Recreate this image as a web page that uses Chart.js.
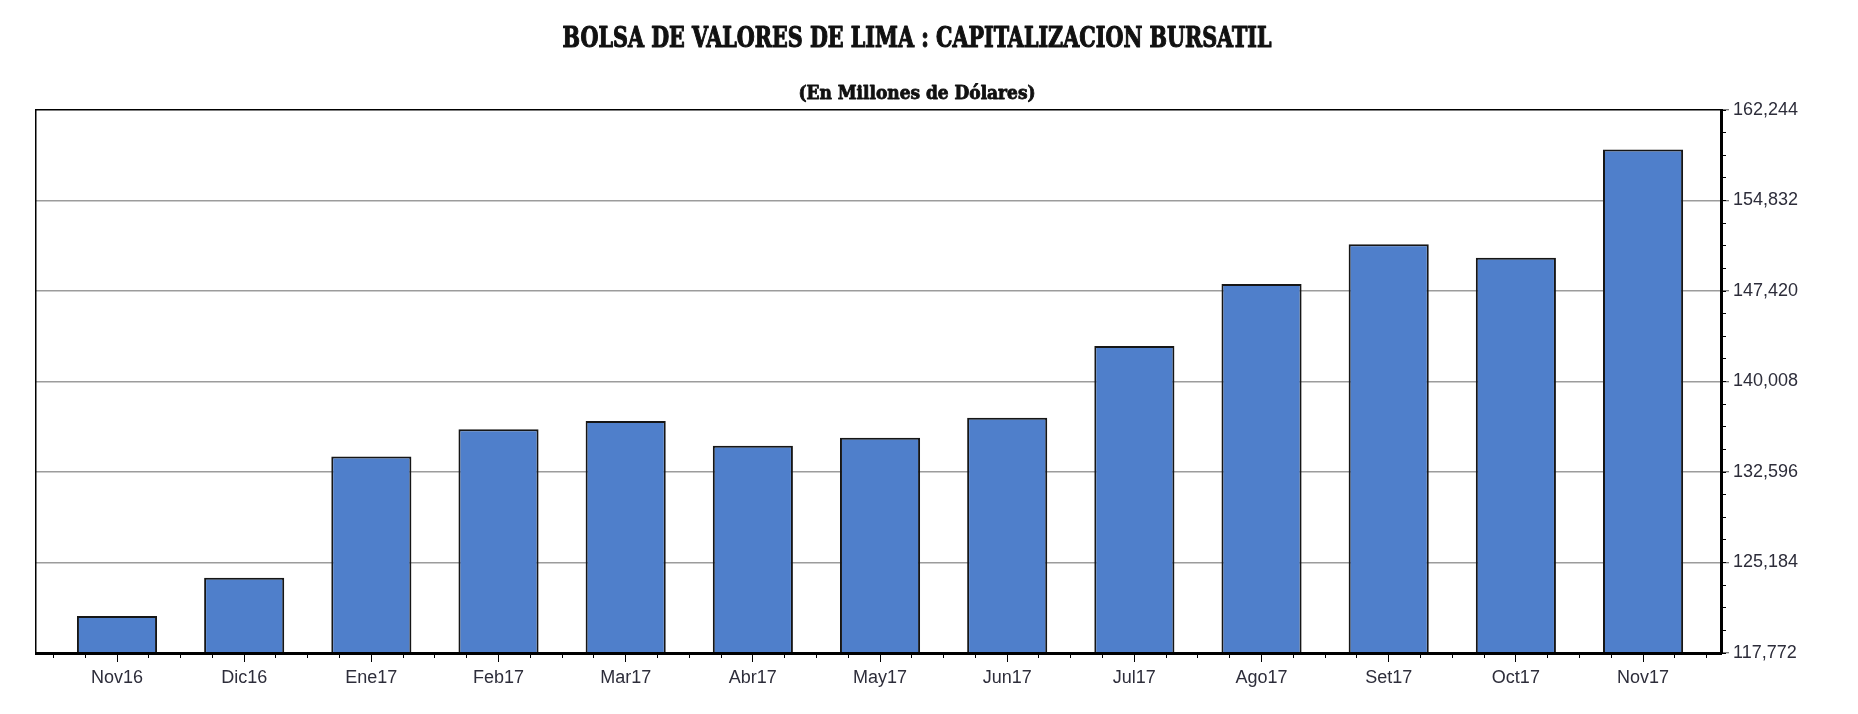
<!DOCTYPE html>
<html>
<head>
<meta charset="utf-8">
<title>Bolsa de Valores de Lima</title>
<script src="https://cdn.jsdelivr.net/npm/chart.js@4.4.1/dist/chart.umd.min.js"></script>
<style>
  body { margin: 0; background: #fff; }
  #chart { display: block; }
</style>
</head>
<body>
<canvas id="chart" width="1858" height="714"></canvas>
<script>
var chartTitle = 'BOLSA DE VALORES DE LIMA : CAPITALIZACION BURSATIL'
var chartSubtitle = '(En Millones de Dólares)'

var months = ['Nov16', 'Dic16', 'Ene17', 'Feb17', 'Mar17', 'Abr17', 'May17', 'Jun17', 'Jul17', 'Ago17', 'Set17', 'Oct17', 'Nov17']
var capitalizacion = [120802, 123939, 133857, 136093, 136773, 134750, 135405, 137043, 142915, 147993, 151245, 150148, 159017]
var yTicks = [117772, 125184, 132596, 140008, 147420, 154832, 162244]

var labelFont = { family: '"Liberation Sans", Arial, sans-serif', size: 18 }
var labelColor = '#2d2d3a'

// x range leaves the same empty margin the original has on both ends
var xMin = -0.637
var xMax = 12.613

function minorY() {
  var out = []
  for (var i = 0; i < yTicks.length - 1; i++) {
    var step = (yTicks[i + 1] - yTicks[i]) / 4
    for (var k = 0; k <= 4; k++) out.push({ value: yTicks[i] + k * step })
  }
  return out
}

function minorX() {
  var out = []
  for (var v = -0.5; v <= months.length - 0.5; v += 0.25) out.push({ value: v })
  return out
}

// title + subtitle, squeezed horizontally like the condensed original font
function drawFitted(c, text, font, cx, baseline, width, stroke) {
  c.save()
  c.font = font
  c.fillStyle = '#111'
  c.strokeStyle = '#111'
  c.lineWidth = stroke
  c.lineJoin = 'round'
  c.textAlign = 'center'
  c.textBaseline = 'alphabetic'
  var w = c.measureText(text).width
  c.translate(cx, baseline)
  c.scale(width / w, 1)
  c.fillText(text, 0, 0)
  c.strokeText(text, 0, 0)
  c.restore()
}

var titles = {
  id: 'titles',
  afterDraw(chart) {
    var c = chart.ctx
    drawFitted(c, chartTitle, 'bold 28px "DejaVu Serif Condensed", "DejaVu Serif", serif', 917, 47, 709, 1.1)
    drawFitted(c, chartSubtitle, 'bold 18px "DejaVu Serif Condensed", "DejaVu Serif", serif', 917, 99, 237, 0.8)
  }
}

const ctx = document.getElementById('chart')

new Chart(ctx, {
  type: 'bar',
  data: {
    datasets: [{
      label: 'Capitalización bursátil',
      data: months.map((m, i) => ({ x: i, y: capitalizacion[i] })),
      backgroundColor: '#4F7FCB',
      borderColor: '#161616',
      borderWidth: 2,
      borderSkipped: 'start',
      categoryPercentage: 1,
      barPercentage: 0.63,
      xAxisID: 'x',
      yAxisID: 'y'
    }]
  },
  options: {
    responsive: false,
    animation: false,
    devicePixelRatio: 1,
    layout: { padding: { top: 110, left: 0, right: 0, bottom: 0 } },
    plugins: {
      legend: { display: false },
      tooltip: { enabled: false },
      title: { display: false }
    },
    scales: {
      x: {
        type: 'linear',
        position: 'bottom',
        weight: 1,
        offset: false,
        min: xMin,
        max: xMax,
        afterBuildTicks: s => { s.ticks = months.map((m, i) => ({ value: i })) },
        afterFit: s => { s.height = 61 },
        ticks: {
          callback: v => months[v],
          autoSkip: false,
          maxRotation: 0,
          padding: 5,
          color: labelColor,
          font: labelFont
        },
        grid: { offset: false, drawOnChartArea: false, tickLength: 9, tickColor: '#000', tickWidth: 1 },
        border: { display: true, color: '#000', width: 3, z: 1 }
      },
      xMinor: {
        type: 'linear',
        position: 'bottom',
        weight: 0,
        offset: false,
        min: xMin,
        max: xMax,
        afterBuildTicks: s => { s.ticks = minorX() },
        afterFit: s => { s.height = 0 },
        ticks: { display: false },
        grid: { offset: false, drawOnChartArea: false, tickLength: 5, tickColor: '#000', tickWidth: 1 },
        border: { display: false }
      },
      y: {
        type: 'linear',
        position: 'right',
        weight: 1,
        beginAtZero: false,
        min: yTicks[0],
        max: yTicks[yTicks.length - 1],
        afterBuildTicks: s => { s.ticks = yTicks.map(v => ({ value: v })) },
        afterFit: s => { s.width = 137 },
        ticks: {
          callback: v => v.toLocaleString('en-US'),
          padding: 4,
          color: labelColor,
          font: labelFont
        },
        grid: {
          color: c => (c.tick && c.tick.value === yTicks[yTicks.length - 1]) ? '#000' : '#9c9c9c',
          lineWidth: 1.5,
          tickLength: 8,
          tickColor: '#555',
          tickWidth: 1
        },
        border: { display: true, color: '#000', width: 3, z: 1 }
      },
      yMinor: {
        type: 'linear',
        position: 'right',
        weight: 0,
        beginAtZero: false,
        min: yTicks[0],
        max: yTicks[yTicks.length - 1],
        afterBuildTicks: s => { s.ticks = minorY() },
        afterFit: s => { s.width = 0 },
        ticks: { display: false },
        grid: { drawOnChartArea: false, tickLength: 5, tickColor: '#000', tickWidth: 1 },
        border: { display: false }
      },
      yLeft: {
        type: 'linear',
        position: 'left',
        afterFit: s => { s.width = 36 },
        ticks: { display: false },
        grid: { display: false },
        border: { display: true, color: '#000', width: 1.5 }
      }
    }
  },
  plugins: [titles]
})
</script>
</body>
</html>
